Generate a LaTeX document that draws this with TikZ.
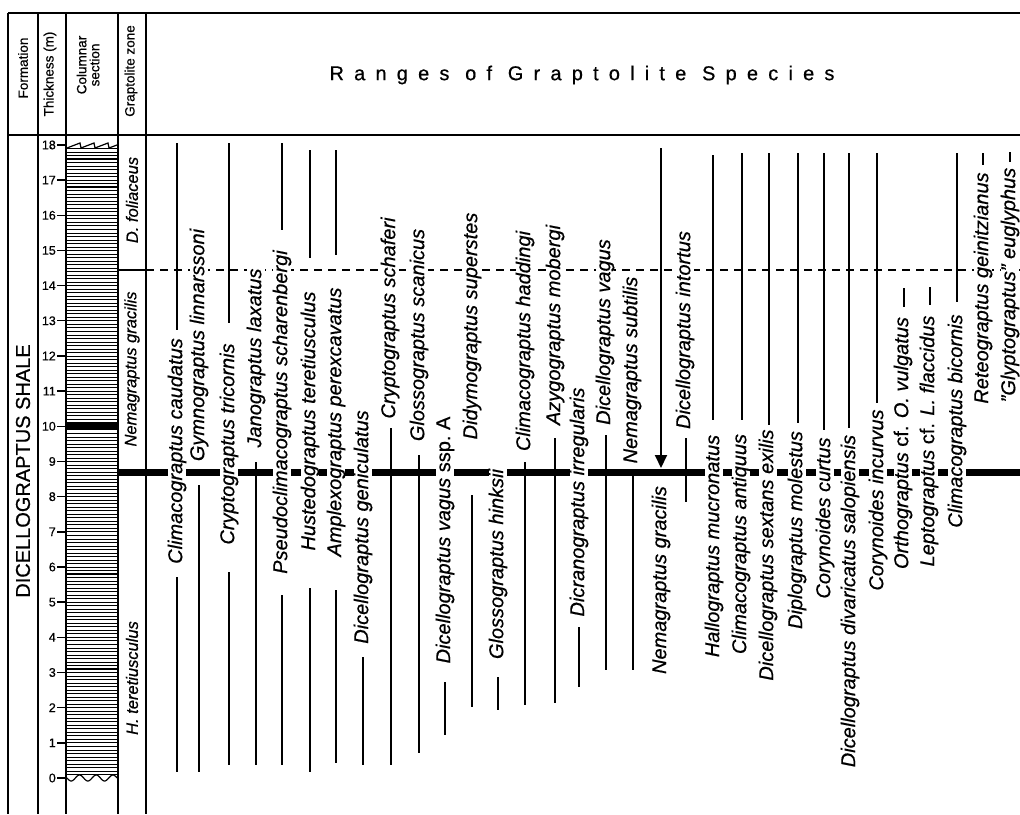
\documentclass[tikz,border=0pt]{standalone}
\usepackage{fontspec}
\setmainfont{Liberation Sans}[FakeBold=0.6]
\usetikzlibrary{arrows.meta}

\tikzset{
      border/.style = { line width=2pt },
     topline/.style = { line width=2.6pt },
   rangeline/.style = { line width=2pt },
  rangearrow/.style = { line width=2pt, -{Triangle[width=12pt,length=13pt]} },
   hatchline/.style = { line width=0.7pt },
    thickbed/.style = { line width=1.6pt },
   markerbed/.style = { line width=7pt },
    zoneline/.style = { line width=2pt, dash pattern=on 8pt off 6pt },
    depthtick/.style = { line width=1.4pt },
  depthlabel/.style = { font=\fontsize{12.5}{12.5}\selectfont, anchor=east, inner sep=1pt },
     colhead/.style = { font=\fontsize{13.5}{13}\selectfont, rotate=90, align=center, inner sep=0pt },
   formlabel/.style = { font=\fontsize{20}{20}\selectfont, rotate=90, inner sep=0pt },
   zonelabel/.style = { font=\fontsize{16.5}{16.5}\selectfont\itshape, rotate=90, inner sep=0pt },
     species/.style = { font=\fontsize{20}{20}\selectfont\itshape, rotate=90, fill=white,
                        inner xsep=4pt, inner ysep=0pt, anchor=center },
       title/.style = { font=\fontsize{20}{20}\selectfont\addfontfeature{LetterSpace=51} },
}

\begin{document}
\begin{tikzpicture}[x=1pt,y=-1pt]
  \useasboundingbox (0,0) rectangle (1020,814);

  % frame and columns
  \draw[topline] (8,13) -- (1020,13);
  \draw[topline] (8,135) -- (1020,135);
  \foreach \x in {8,38,66,118,146}
    \draw[border] (\x,13) -- (\x,814);

  \node[title] (title) at (582,75) {Ranges of Graptolite Species};
  \node[colhead] (formation) at (23,68) {Formation};
  \node[colhead] (thickness) at (50,74) {Thickness (m)};
  \node[colhead] (columnar)  at (88,65) {Columnar\\section};
  \node[colhead] (zone)      at (131,71) {Graptolite zone};

  % columnar section
  \foreach \m in {1,...,179}
    \draw[hatchline] (66,{778-3.517*\m}) -- (118,{778-3.517*\m});
  \foreach \m in {3.1,5.8,16.8,17.6}
    \draw[thickbed] (66,{778-35.17*\m}) -- (118,{778-35.17*\m});
  \fill (66,422) rectangle (118,430);
  \draw[hatchline, line width=1.2pt] (67,148) -- (80,143) -- (81,148) -- (94,143) -- (95,148)
    -- (108,143) -- (109,148) -- (117,145);
  \draw[hatchline, line width=1.2pt] plot[variable=\t, domain=0:3, samples=60] ({67+16.7*\t},{778+3*sin(360*\t)});

  % thickness scale
  \foreach \m in {0,...,18} {
    \draw[depthtick] (57,{778-35.17*\m}) -- (66,{778-35.17*\m});
    \node[depthlabel] (d\m) at (57,{778-35.17*\m}) {\m};
  }

  \node[formlabel] (shale) at (23,471) {DICELLOGRAPTUS SHALE};
  \node[zonelabel] (foliaceus) at (132,200) {D. foliaceus};
  \node[zonelabel] (gracilis)  at (132,369) {Nemagraptus gracilis};
  \node[zonelabel] (teret)     at (132,678) {H. teretiusculus};

  % zone boundaries
  \draw[border] (118,270) -- (146,270);
  \draw[zoneline] (146,270) -- (1020,270);
  \draw[markerbed] (118,472) -- (1020,472);

  % ranges
  \foreach \x/\a/\b in {177/143/330, 177/577/772, 199/485/772, 229/143/323, 229/572/765,
      256/462/765, 282/143/230, 282/595/765, 310/150/258, 310/588/772, 336/150/255,
      336/590/763, 363/657/765, 391/428/765, 419/455/753, 445/682/735, 472/495/707,
      498/677/710, 525/462/705, 555/438/703, 579/627/687, 606/435/670, 633/475/670,
      686/438/502, 713/155/420, 742/153/420, 769/153/425, 798/153/423, 824/153/430,
      849/153/428, 877/153/403, 904/288/307, 930/287/305, 957/153/302, 983/153/165,
      1010/152/162}
    \draw[rangeline] (\x,\a) -- (\x,\b);
  \draw[rangearrow] (661,148) -- (661,468);

  \foreach \nm/\x/\y/\txt in {
      caud/177/451/{Climacograptus caudatus},
      linn/199/345/{Gymnograptus linnarssoni},
      tric/229/444/{Cryptograptus tricornis},
      laxa/256/358/{Janograptus laxatus},
      scha/282/412/{Pseudoclimacograptus scharenbergi},
      tere/310/421/{Hustedograptus teretiusculus},
      pere/336/422/{Amplexograptus perexcavatus},
      geni/363/527/{Dicellograptus geniculatus},
      schf/390/318/{Cryptograptus schaferi},
      scan/419/335/{Glossograptus scanicus},
      vagA/445/540/{Dicellograptus vagus \textup{ssp.\ A}},
      supe/472/326/{Didymograptus superstes},
      hink/498/564/{Glossograptus hinksii},
      hadd/525/341/{Climacograptus haddingi},
      mobe/555/325/{Azygograptus mobergi},
      irre/579/502/{Dicranograptus irregularis},
      vagu/605/332/{Dicellograptus vagus},
      subt/632/370/{Nemagraptus subtilis},
      grac/661/580/{Nemagraptus gracilis},
      into/685/330/{Dicellograptus intortus},
      mucr/714/546/{Hallograptus mucronatus},
      anti/741/544/{Climacograptus antiquus},
      exil/768/555/{Dicellograptus sextans exilis},
      mole/797/530/{Diplograptus molestus},
      curt/825/518/{Corynoides curtus},
      salo/850/601/{Dicellograptus divaricatus salopiensis},
      incu/878/500/{Corynoides incurvus},
      vulg/903/443/{Orthograptus \textup{cf.} O. vulgatus},
      flac/929/441/{Leptograptus \textup{cf.} L. flaccidus},
      bico/957/421/{Climacograptus bicornis},
      gein/983/288/{Reteograptus geinitzianus},
      eugl/1010/285/{"Glyptograptus" euglyphus}}
    \node[species] (\nm) at (\x,\y) {\txt};
\end{tikzpicture}
\end{document}
